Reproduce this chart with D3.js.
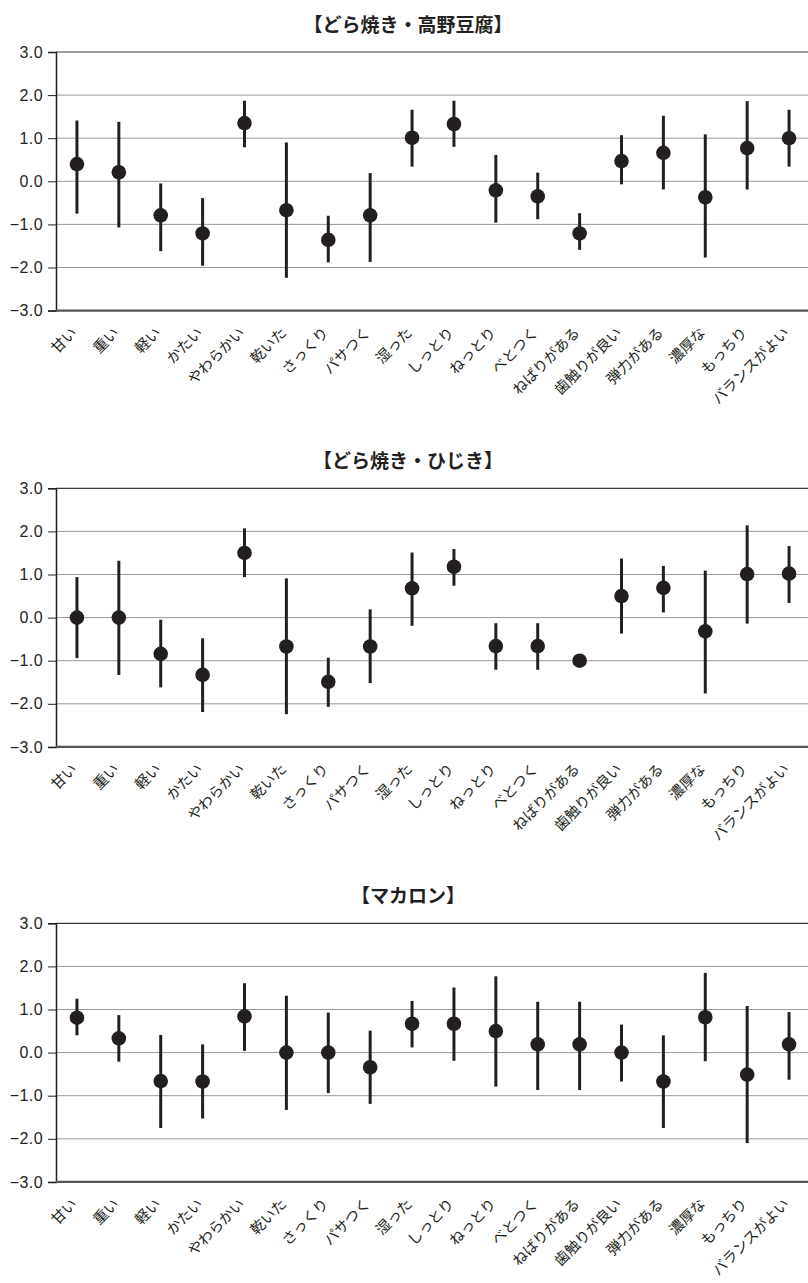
<!DOCTYPE html>
<html>
<head>
<meta charset="utf-8">
<script src="https://cdn.jsdelivr.net/npm/d3@7"></script>
<style>
  html, body { margin: 0; padding: 0; background: #fff; }
  svg { display: block; }
</style>
</head>
<body>
<div id="chart"></div>
<script>
const categories = ["甘い","重い","軽い","かたい","やわらかい","乾いた","さっくり","パサつく","湿った","しっとり","ねっとり","べとつく","ねばりがある","歯触りが良い","弾力がある","濃厚な","もっちり","バランスがよい"];
const yTicks = [3, 2, 1, 0, -1, -2, -3];
const titles = ["【どら焼き・高野豆腐】", "【どら焼き・ひじき】", "【マカロン】"];

const koyaMean = [0.40, 0.21, -0.79, -1.21, 1.35, -0.67, -1.36, -0.79, 1.01, 1.33, -0.21, -0.35, -1.21, 0.47, 0.66, -0.37, 0.77, 1.00];
const koyaHigh = [1.41, 1.38, -0.05, -0.39, 1.87, 0.90, -0.80, 0.19, 1.66, 1.87, 0.61, 0.20, -0.74, 1.07, 1.52, 1.09, 1.86, 1.66];
const koyaLow  = [-0.75, -1.07, -1.62, -1.96, 0.79, -2.24, -1.88, -1.87, 0.34, 0.80, -0.96, -0.88, -1.59, -0.07, -0.19, -1.77, -0.19, 0.34];

const hijikiMean = [0.00, 0.00, -0.84, -1.33, 1.50, -0.67, -1.49, -0.67, 0.68, 1.18, -0.66, -0.66, -1.00, 0.50, 0.69, -0.32, 1.01, 1.02];
const hijikiHigh = [0.94, 1.32, -0.05, -0.48, 2.07, 0.91, -0.93, 0.19, 1.51, 1.59, -0.13, -0.13, -1.00, 1.37, 1.20, 1.09, 2.14, 1.66];
const hijikiLow  = [-0.94, -1.33, -1.62, -2.19, 0.94, -2.24, -2.07, -1.52, -0.19, 0.74, -1.21, -1.21, -1.00, -0.37, 0.12, -1.76, -0.14, 0.34];

const macaronMean = [0.81, 0.33, -0.66, -0.67, 0.84, 0.00, 0.00, -0.34, 0.67, 0.67, 0.50, 0.19, 0.19, 0.00, -0.67, 0.82, -0.51, 0.19];
const macaronHigh = [1.25, 0.87, 0.41, 0.19, 1.61, 1.32, 0.93, 0.51, 1.20, 1.51, 1.77, 1.18, 1.18, 0.65, 0.40, 1.85, 1.08, 0.94];
const macaronLow  = [0.40, -0.21, -1.75, -1.53, 0.04, -1.33, -0.94, -1.19, 0.12, -0.19, -0.79, -0.87, -0.87, -0.67, -1.75, -0.20, -2.10, -0.63];

const panels = [
  { title: titles[0], mean: koyaMean, high: koyaHigh, low: koyaLow, top: 52 },
  { title: titles[1], mean: hijikiMean, high: hijikiHigh, low: hijikiLow, top: 488.3 },
  { title: titles[2], mean: macaronMean, high: macaronHigh, low: macaronLow, top: 923.3 }
];

const W = 808, H = 1283;
const plotH = 258.6;
const left = 56, right = 810;
const ink = "#231f20";

const svg = d3.select("#chart").append("svg")
  .attr("width", W).attr("height", H)
  .attr("viewBox", `0 0 ${W} ${H}`);

const x = d3.scaleBand().domain(categories).range([left, right]).paddingInner(0).paddingOuter(0);
const cx = c => x(c) + x.bandwidth() / 2;

panels.forEach(p => {
  const g = svg.append("g");
  const y = d3.scaleLinear().domain([-3, 3]).range([p.top + plotH, p.top]);

  // title
  g.append("text")
    .attr("x", 408).attr("y", p.top - 20)
    .attr("text-anchor", "middle")
    .style("font-family", "'Noto Sans CJK JP', sans-serif")
    .style("font-weight", "bold")
    .style("font-size", "19px")
    .attr("fill", ink)
    .text(p.title);

  // gridlines
  g.selectAll("line.grid").data(yTicks.filter(t => t !== -3 && t !== 3)).enter()
    .append("line")
    .attr("x1", left).attr("x2", W)
    .attr("y1", d => y(d)).attr("y2", d => y(d))
    .attr("stroke", "#9a9a9a").attr("stroke-width", 1);

  // top border
  g.append("line")
    .attr("x1", left).attr("x2", W)
    .attr("y1", y(3)).attr("y2", y(3))
    .attr("stroke", "#3a3a3a").attr("stroke-width", 1.2);

  // y axis
  const yAxis = d3.axisLeft(y).tickValues(yTicks).tickSize(8).tickPadding(5)
    .tickFormat(d3.format(".1f"));
  const ya = g.append("g").attr("transform", `translate(${left},0)`).call(yAxis);
  ya.attr("font-size", null).attr("font-family", null);
  ya.select(".domain").attr("stroke", ink).attr("stroke-width", 1.5);
  ya.selectAll(".tick line").attr("stroke", ink).attr("stroke-width", 1);
  ya.selectAll(".tick text")
    .style("font-family", "'Liberation Sans', Arial, sans-serif")
    .style("font-size", "16px")
    .style("letter-spacing", "0.4px")
    .attr("fill", ink)
    .text(d => d3.format(".1f")(d));

  // bottom axis line
  g.append("line")
    .attr("x1", left).attr("x2", W)
    .attr("y1", y(-3)).attr("y2", y(-3))
    .attr("stroke", "#555").attr("stroke-width", 2.2);

  // x labels
  const xAxis = d3.axisBottom(x).tickSize(0).tickPadding(0);
  const xa = g.append("g").attr("transform", `translate(0,${y(-3)})`).call(xAxis);
  xa.attr("font-size", null).attr("font-family", null);
  xa.select(".domain").remove();
  xa.selectAll(".tick text")
    .style("font-family", "'Noto Sans CJK JP', sans-serif")
    .style("font-size", "14.6px")
    .attr("fill", ink)
    .attr("text-anchor", "end")
    .attr("dy", 0)
    .attr("y", 0)
    .attr("transform", "translate(1,23) rotate(-45)");

  const data = categories.map((c, i) => ({ c, m: p.mean[i], hi: p.high[i], lo: p.low[i] }));

  // error bars
  g.selectAll("line.err").data(data.filter(d => d.hi !== d.lo)).enter()
    .append("line")
    .attr("x1", d => cx(d.c)).attr("x2", d => cx(d.c))
    .attr("y1", d => y(d.hi)).attr("y2", d => y(d.lo))
    .attr("stroke", ink).attr("stroke-width", 3);

  // points
  g.selectAll("circle.pt").data(data).enter()
    .append("circle")
    .attr("cx", d => cx(d.c)).attr("cy", d => y(d.m))
    .attr("r", 7.3)
    .attr("fill", ink);
});
</script>
</body>
</html>
